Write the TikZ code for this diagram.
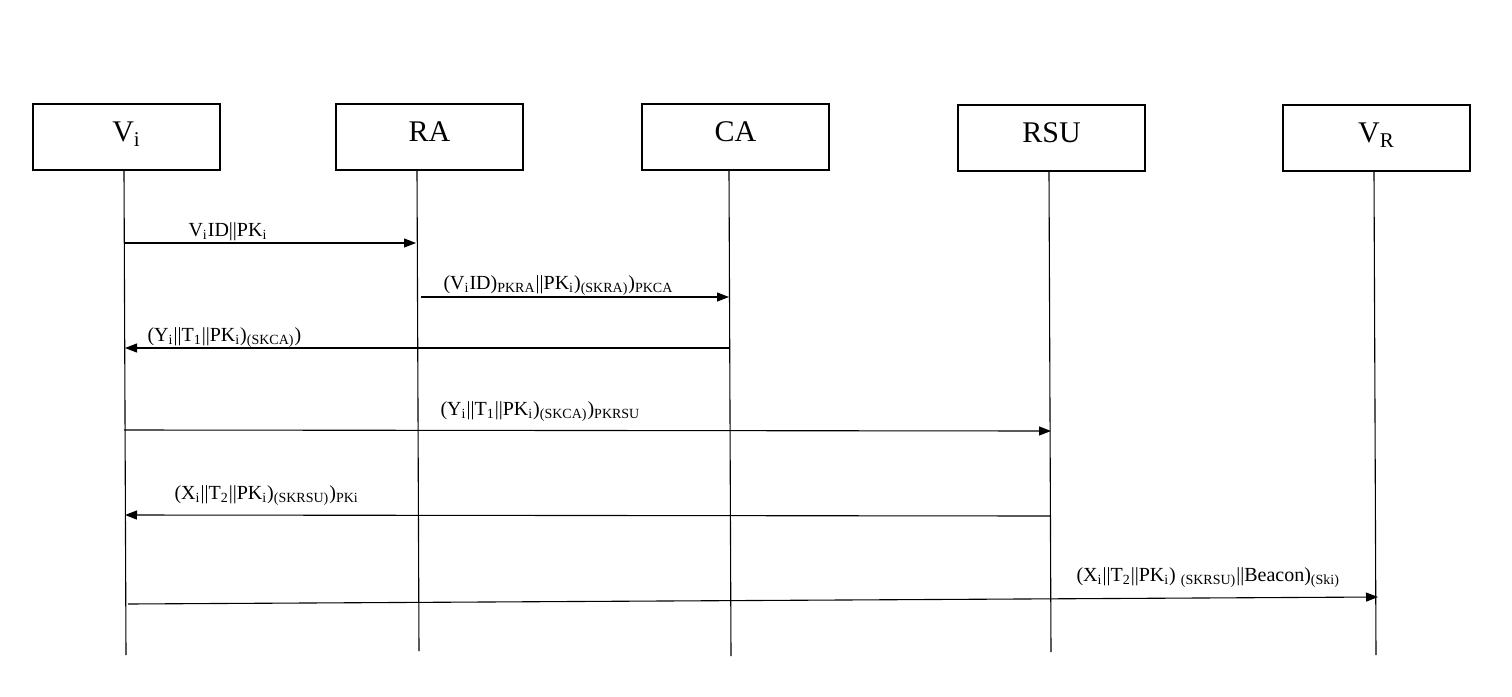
\documentclass[tikz,border=0pt]{standalone}
\usepackage{fontspec}
\setmainfont{Liberation Serif}
\usetikzlibrary{arrows.meta}
\newcommand{\sub}[1]{\textsubscript{#1}}

\begin{document}
\begin{tikzpicture}[x=0.5pt,y=-0.5pt,>={Triangle[length=6pt,width=4.5pt]},line width=0.55pt,
 actor/.style={draw,minimum width=93.5pt,minimum height=33pt,inner sep=0pt,text depth=5pt,font=\fontsize{15}{18}\selectfont},
 msg/.style={anchor=base west,inner sep=0pt,font=\fontsize{10}{12}\selectfont}]
\useasboundingbox(0,0)rectangle(1512,697);
\node[actor](vi)at(126.5,137){V\sub{i}};\node[actor](ra)at(429.5,137){RA};
\node[actor](ca)at(735.5,137){CA};\node[actor](rsu)at(1051.5,138){RSU};
\node[actor](vr)at(1376.5,138){V\sub{R}};
% lifelines
\coordinate(vi-t)at(124,170);\coordinate(vi-b)at(126,655);
\coordinate(ra-t)at(417,170);\coordinate(ra-b)at(419,651);
\coordinate(ca-t)at(729,170);\coordinate(ca-b)at(731,656);
\coordinate(rsu-t)at(1049,171);\coordinate(rsu-b)at(1051,652);
\coordinate(vr-t)at(1374,171);\coordinate(vr-b)at(1376,655);
\foreach \a in {vi,ra,ca,rsu,vr}\draw(\a-t)--(\a-b);
% messages
\coordinate(m1a)at(124,243);\coordinate(m1b)at(416,243);
\coordinate(m2a)at(421,297);\coordinate(m2b)at(729,297);
\coordinate(m3a)at(729,348);\coordinate(m3b)at(125,348);
\coordinate(m4a)at(124,430);\coordinate(m4b)at(1051,431);
\coordinate(m5a)at(1051,516);\coordinate(m5b)at(125,515);
\coordinate(m6a)at(128,604);\coordinate(m6b)at(1378,597);
\draw[->](m1a)--(m1b);\draw[->](m2a)--(m2b);\draw[->](m3a)--(m3b);
\draw[->](m4a)--(m4b);\draw[->](m5a)--(m5b);\draw[->](m6a)--(m6b);
\node[msg](l1)at(188,236){V\sub{i}ID||PK\sub{i}};
\node[msg](l2)at(443,289){(V\sub{i}ID)\sub{PKRA}||PK\sub{i})\sub{(SKRA)})\sub{PKCA}};
\node[msg](l3)at(147,341){(Y\sub{i}||T\sub{1}||PK\sub{i})\sub{(SKCA)})};
\node[msg](l4)at(440,415){(Y\sub{i}||T\sub{1}||PK\sub{i})\sub{(SKCA)})\sub{PKRSU}};
\node[msg](l5)at(174,499){(X\sub{i}||T\sub{2}||PK\sub{i})\sub{(SKRSU)})\sub{PKi}};
\node[msg](l6)at(1076,581){(X\sub{i}||T\sub{2}||PK\sub{i}) \sub{(SKRSU)}||Beacon)\sub{(Ski)}};
\end{tikzpicture}
\end{document}
